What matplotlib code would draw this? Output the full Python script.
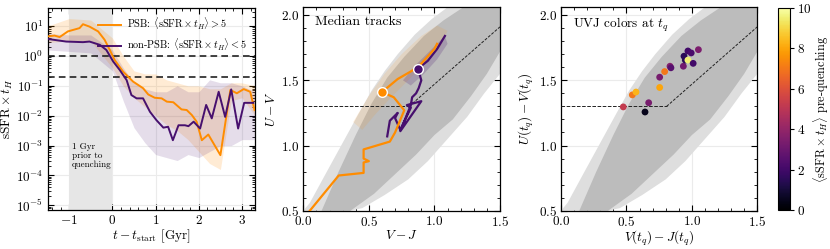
import numpy as np
import matplotlib
matplotlib.use("Agg")
import matplotlib.pyplot as plt
from matplotlib.ticker import LogLocator, MultipleLocator, NullFormatter

plt.rcParams['font.family'] = 'serif'
plt.rcParams['font.serif'] = ['cmr10', 'DejaVu Serif']
plt.rcParams['mathtext.fontset'] = 'cm'
plt.rcParams['axes.formatter.use_mathtext'] = True
plt.rcParams['axes.unicode_minus'] = True

ORANGE = '#ff8c00'
PURPLE = '#47106e'
CLOUD = '#bcbcbc'
CLOUD_EDGE = '#dedede'

# ---- panel 1: sSFR x t_H tracks (log10 values)
t_psb = [-1.51, -1.34, -1.22, -1.03, -0.76, -0.68, -0.53, -0.33, -0.18, -0.06, 0.05, 0.25,
         0.48, 0.71, 0.83, 0.98, 1.14, 1.26, 1.41, 1.60, 1.72, 1.84, 1.95, 2.07, 2.22,
         2.50, 2.73, 2.88, 3.04, 3.19, 3.29]
ssfr_psb_log = [0.65, 0.68, 0.63, 0.82, 0.93, 1.06, 0.98, 0.82, 0.54, 0.20, -0.13, -0.53,
                -0.86, -1.08, -1.29, -1.40, -1.42, -1.53, -1.55, -1.79, -1.81, -1.98, -2.20,
                -2.82, -2.63, -3.32, -1.14, -1.25, -1.11, -1.20, -1.81]

t_non = [-1.51, -1.07, -0.68, -0.53, -0.29, -0.14, 0.02, 0.17, 0.33, 0.44, 0.56, 0.71,
         0.87, 1.02, 1.18, 1.29, 1.40, 1.53, 1.68, 1.76, 1.88, 2.03, 2.17, 2.30, 2.46,
         2.61, 2.75, 2.91, 3.05, 3.26]
ssfr_non_log = [0.57, 0.48, 0.46, 0.48, 0.37, 0.20, -0.19, -0.47, -0.81, -1.31, -1.42, -1.42,
                -1.87, -2.15, -2.40, -2.37, -2.82, -2.32, -2.32, -2.35, -2.20, -2.43, -1.64,
                -2.09, -1.20, -2.04, -1.12, -2.43, -1.57, -1.57]

t_band = [-1.5, -1.0, -0.5, 0.0, 0.25, 0.5, 0.75, 1.0, 1.25, 1.5, 1.75, 2.0, 2.25, 2.5,
          2.75, 3.0, 3.3]
psb_hi_log = [1.0, 1.25, 1.2, 0.6, 0.0, -0.5, -0.6, -0.6, -0.8, -0.9, -1.0, -1.0, -1.1,
              -1.1, -0.9, -0.9, -1.0]
psb_lo_log = [0.45, 0.5, 0.5, -0.4, -1.0, -1.4, -1.7, -2.0, -2.3, -2.5, -2.8, -3.2, -3.6,
              -3.8, -1.5, -1.4, -2.0]
non_hi_log = [0.75, 0.7, 0.7, 0.2, -0.4, -0.9, -1.1, -1.2, -1.2, -1.0, -1.2, -1.2, -0.8,
              -0.9, -0.9, -1.0, -1.2]
non_lo_log = [0.2, 0.15, 0.1, -0.5, -1.5, -2.4, -2.9, -3.3, -3.4, -3.5, -3.3, -3.4, -3.2,
              -3.0, -3.0, -2.8, -2.8]
ssfr_ticks = [1e-5, 1e-4, 1e-3, 1e-2, 1e-1, 1e0, 1e1]

# ---- UVJ cloud outline (outer sparse edge and dense core)
cloud_out_vj = [0.0, 0.05, 0.18, 0.30, 0.42, 0.52, 0.62, 0.72, 0.85, 0.98, 1.10, 1.5,
                1.5, 1.38, 1.25, 1.10, 0.95, 0.80, 0.62, 0.45, 0.36]
cloud_out_uv = [0.5, 0.56, 0.80, 1.02, 1.24, 1.42, 1.57, 1.70, 1.85, 1.97, 2.06, 2.06,
                1.55, 1.40, 1.22, 1.05, 0.88, 0.74, 0.62, 0.52, 0.5]
cloud_in_vj = [0.14, 0.27, 0.40, 0.52, 0.64, 0.77, 0.92, 1.07, 1.22, 1.5,
               1.5, 1.40, 1.28, 1.14, 1.00, 0.86, 0.70, 0.54, 0.36]
cloud_in_uv = [0.5, 0.80, 1.08, 1.32, 1.52, 1.68, 1.84, 1.96, 2.06, 2.06,
               1.72, 1.55, 1.38, 1.20, 1.08, 0.93, 0.78, 0.63, 0.5]

# density haze of the two groups
haze_psb_vj = [0.38, 0.50, 0.62, 0.75, 0.90, 1.02, 1.10, 1.05, 0.92, 0.80, 0.68, 0.55, 0.45]
haze_psb_uv = [1.18, 1.38, 1.55, 1.70, 1.84, 1.92, 1.88, 1.76, 1.62, 1.50, 1.38, 1.24, 1.12]
haze_non_vj = [0.76, 0.86, 0.98, 1.08, 1.10, 1.02, 0.92, 0.82]
haze_non_uv = [1.50, 1.62, 1.74, 1.84, 1.78, 1.66, 1.55, 1.46]

# median tracks
track_psb_vj = [0.05, 0.27, 0.46, 0.46, 0.50, 0.46, 0.46, 0.66, 0.70, 0.77, 0.69, 0.60,
                0.72, 0.875, 1.00, 1.02]
track_psb_uv = [0.50, 0.77, 0.79, 0.87, 0.88, 0.90, 0.97, 1.03, 1.10, 1.27, 1.37, 1.41,
                1.51, 1.60, 1.74, 1.78]
psb_mark = (0.60, 1.41)
track_non_vj = [0.64, 0.66, 0.72, 0.70, 0.74, 0.82, 0.79, 0.90, 0.74, 0.82, 0.83, 0.86,
                0.88, 0.90, 0.875, 0.95, 1.02, 1.08]
track_non_uv = [1.07, 1.19, 1.25, 1.21, 1.12, 1.29, 1.31, 1.34, 1.11, 1.31, 1.37, 1.40,
                1.44, 1.50, 1.59, 1.65, 1.74, 1.84]
non_mark = (0.875, 1.59)

# ---- panel 3: colours at quenching
tq_vj = [0.476, 0.545, 0.573, 0.642, 0.670, 0.754, 0.754, 0.792, 0.833, 0.84, 0.935,
         0.94, 0.95, 0.97, 0.97, 0.995, 1.01, 1.05]
tq_uv = [1.296, 1.388, 1.41, 1.257, 1.328, 1.445, 1.524, 1.567, 1.608, 1.596, 1.608,
         1.685, 1.655, 1.725, 1.655, 1.71, 1.63, 1.735]
tq_ssfr = [5.2, 7.0, 8.3, 0.5, 3.3, 8.0, 3.3, 7.0, 3.6, 2.5, 3.2, 1.5, 1.5, 2.0, 9.5,
           2.2, 2.0, 3.4]

# UVJ quiescent box (Williams et al.)
box_vj = [0.0, 0.807, 1.5]
box_uv = [1.3, 1.3, 1.91]


def style_axis(ax):
    ax.tick_params(which='both', direction='in', top=True, right=True, labelsize=9.5, pad=3)
    ax.tick_params(which='major', length=4, width=0.8)
    ax.tick_params(which='minor', length=2, width=0.6)
    ax.grid(True, color='#ebebeb', lw=0.8, zorder=0)
    ax.set_axisbelow(True)
    for s in ax.spines.values():
        s.set_linewidth(0.9)


fig = plt.figure(figsize=(8.30, 2.49), dpi=100)

# ---------------- panel 1
ax1 = fig.add_axes([0.0573, 0.1566, 0.2499, 0.8112])
style_axis(ax1)
ax1.axvspan(-1, 0, color='#e6e6e6', zorder=1, lw=0)
ax1.fill_between(t_band, 10 ** np.array(psb_lo_log), 10 ** np.array(psb_hi_log),
                 color=ORANGE, alpha=0.17, lw=0, zorder=2)
ax1.fill_between(t_band, 10 ** np.array(non_lo_log), 10 ** np.array(non_hi_log),
                 color=PURPLE, alpha=0.14, lw=0, zorder=2)
ax1.axhline(1.0, color='#222222', ls=(0, (4, 2.5)), lw=1.2, zorder=3)
ax1.axhline(0.2, color='#222222', ls=(0, (4, 2.5)), lw=1.2, zorder=3)
ax1.plot(t_psb, 10 ** np.array(ssfr_psb_log), color=ORANGE, lw=1.4, zorder=4,
         label=r'PSB: $\langle\mathrm{sSFR}\times t_H\rangle > 5$')
ax1.plot(t_non, 10 ** np.array(ssfr_non_log), color=PURPLE, lw=1.4, zorder=4,
         label=r'non-PSB: $\langle\mathrm{sSFR}\times t_H\rangle < 5$')
ax1.set_yscale('log')
ax1.set_xlim(-1.5, 3.3)
ax1.set_ylim(7e-6, 40)
ax1.xaxis.set_major_locator(MultipleLocator(1))
ax1.xaxis.set_minor_locator(MultipleLocator(0.2))
ax1.set_yticks(ssfr_ticks)
ax1.yaxis.set_minor_locator(LogLocator(base=10, subs=np.arange(2, 10), numticks=20))
ax1.yaxis.set_minor_formatter(NullFormatter())
ax1.set_xlabel(r'$t - t_{\rm start}$ [Gyr]', fontsize=9.5, labelpad=0)
ax1.set_ylabel(r'$\mathrm{sSFR}\times t_H$', fontsize=9.5, labelpad=1)
ax1.text(-0.93, 1.3e-3, '1 Gyr\nprior to\nquenching', fontsize=6.5, va='top', ha='left',
         linespacing=1.1, zorder=5)
ax1.legend(loc='upper right', frameon=False, fontsize=7.4, handlelength=2.2,
           borderaxespad=0.4, labelspacing=0.45, handletextpad=0.6)

# ---------------- panel 2
ax2 = fig.add_axes([0.3654, 0.1538, 0.2370, 0.8169])
style_axis(ax2)
ax2.fill(cloud_out_vj, cloud_out_uv, color=CLOUD_EDGE, lw=0, zorder=1)
ax2.fill(cloud_in_vj, cloud_in_uv, color=CLOUD, lw=0, zorder=1)
ax2.fill(haze_psb_vj, haze_psb_uv, color=ORANGE, alpha=0.12, lw=0, zorder=2)
ax2.fill(haze_non_vj, haze_non_uv, color=PURPLE, alpha=0.2, lw=0, zorder=2)
ax2.plot(box_vj[:2], box_uv[:2], color='#222222', ls='--', lw=0.7, zorder=3)
ax2.plot(box_vj[1:], box_uv[1:], color='#222222', ls=(0, (3, 1.5)), lw=0.7, zorder=3)
ax2.plot(track_non_vj, track_non_uv, color=PURPLE, lw=1.6, zorder=4)
ax2.plot(track_psb_vj, track_psb_uv, color=ORANGE, lw=1.6, zorder=5)
ax2.plot(*psb_mark, 'o', color=ORANGE, mec='white', mew=1.0, ms=7, zorder=6)
ax2.plot(*non_mark, 'o', color=PURPLE, mec='white', mew=1.0, ms=7, zorder=6)
ax2.set_xlim(0, 1.5)
ax2.set_ylim(0.5, 2.06)
ax2.xaxis.set_major_locator(MultipleLocator(0.5))
ax2.xaxis.set_minor_locator(MultipleLocator(0.1))
ax2.yaxis.set_major_locator(MultipleLocator(0.5))
ax2.yaxis.set_minor_locator(MultipleLocator(0.1))
ax2.set_xlabel(r'$V - J$', fontsize=9.5, labelpad=0)
ax2.set_ylabel(r'$U - V$', fontsize=9.5, labelpad=2)
ax2.text(0.06, 0.96, 'Median tracks', transform=ax2.transAxes, fontsize=10,
         va='top', ha='left', zorder=7)

# ---------------- panel 3
ax3 = fig.add_axes([0.6759, 0.1538, 0.2365, 0.8169])
style_axis(ax3)
ax3.fill(cloud_out_vj, cloud_out_uv, color=CLOUD_EDGE, lw=0, zorder=1)
ax3.fill(cloud_in_vj, cloud_in_uv, color=CLOUD, lw=0, zorder=1)
ax3.plot(box_vj[:2], box_uv[:2], color='#222222', ls='--', lw=0.7, zorder=3)
ax3.plot(box_vj[1:], box_uv[1:], color='#222222', ls=(0, (3, 1.5)), lw=0.7, zorder=3)
sc = ax3.scatter(tq_vj, tq_uv, c=tq_ssfr, cmap='inferno', vmin=0, vmax=10, s=24,
                 lw=0, zorder=5)
ax3.set_xlim(0, 1.5)
ax3.set_ylim(0.5, 2.06)
ax3.xaxis.set_major_locator(MultipleLocator(0.5))
ax3.xaxis.set_minor_locator(MultipleLocator(0.1))
ax3.yaxis.set_major_locator(MultipleLocator(0.5))
ax3.yaxis.set_minor_locator(MultipleLocator(0.1))
ax3.set_xlabel(r'$V(t_q) - J(t_q)$', fontsize=9.5, labelpad=0)
ax3.set_ylabel(r'$U(t_q) - V(t_q)$', fontsize=9.5, labelpad=2)
ax3.text(0.06, 0.96, r'UVJ colors at $t_q$', transform=ax3.transAxes, fontsize=9.5,
         va='top', ha='left', zorder=7)

cax = fig.add_axes([0.9373, 0.1566, 0.0145, 0.8112])
cb = fig.colorbar(sc, cax=cax)
cb.set_ticks([0, 2, 4, 6, 8, 10])
cb.ax.tick_params(direction='out', labelsize=9.5, length=3, pad=2)
cb.set_label(r'$\langle\mathrm{sSFR}\times t_H\rangle$ pre-quenching', fontsize=8.8, labelpad=0)
cb.outline.set_linewidth(0.8)

fig.savefig('out.png', dpi=100)
